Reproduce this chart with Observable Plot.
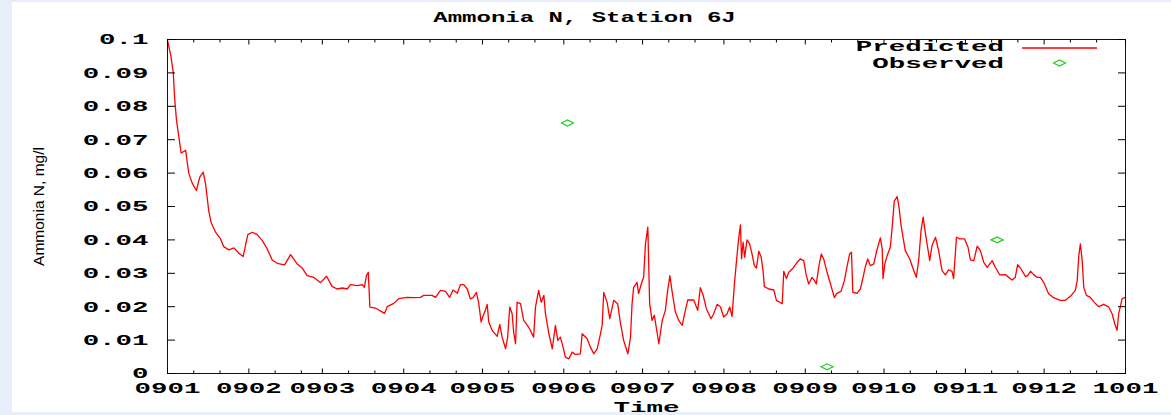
<!DOCTYPE html>
<html>
<head>
<meta charset="utf-8">
<script src="https://cdn.jsdelivr.net/npm/d3@7"></script>
<script src="https://cdn.jsdelivr.net/npm/@observablehq/plot@0.6"></script>
<style>
  html, body { margin: 0; padding: 0; }
  body { width: 1171px; height: 415px; background: #e8eef9; position: relative; overflow: hidden; }
  #panel { position: absolute; left: 12px; top: 2px; width: 1159px; height: 410px; background: #fff; }
  #chart { position: absolute; left: 0; top: 0; }
  .gp { font-family: "Liberation Mono", monospace; font-weight: bold; font-size: 15px; line-height: 14px; color: #000; white-space: pre; }
  #title { position: absolute; left: 0; width: 1170px; top: 12px; text-align: center; }
  #title span { display: inline-block; transform: scaleX(1.6); transform-origin: 50% 50%; }
  .legtext { position: absolute; right: 167px; transform: scaleX(1.83); transform-origin: 100% 50%; }
  #legline { position: absolute; left: 1020px; top: 43px; }
  #legdot { position: absolute; left: 1052px; top: 59px; }
</style>
</head>
<body>
<div id="panel"></div>
<div id="chart"></div>
<div id="title" class="gp"><span>Ammonia N, Station 6J</span></div>
<div class="gp legtext" style="top:40.5px">Predicted</div>
<div class="gp legtext" style="top:57.5px">Observed</div>
<svg id="legline" width="80" height="10"><line x1="2" y1="5" x2="77" y2="5" stroke="#ff0000" stroke-width="1.3"/></svg>
<svg id="legdot" width="16" height="8"><polygon points="1.5,4 7.5,1 13.5,4 7.5,7" fill="none" stroke="#22cc22" stroke-width="1.2"/></svg>
<script>
// ---------- data ----------
// Predicted ammonia N (mg/l): [days since 2009-01-01, value]
const predicted = [
[0,0.0997],[1.3,0.095],[2.2,0.090],[2.7,0.0827],[3.4,0.076],[4.3,0.071],[5.2,0.066],[6.9,0.0668],[8.1,0.060],[9.4,0.057],
[11.0,0.0548],[12.3,0.0588],[13.6,0.0603],[14.5,0.0568],[15.7,0.0488],[16.6,0.0453],[18.3,0.0423],[20.2,0.0403],[21.4,0.038],[23.4,0.037],
[25.3,0.0376],[27.2,0.036],[28.8,0.035],[30.6,0.0416],[32.3,0.0423],[34.2,0.0416],[36.1,0.0398],[38.0,0.0373],[39.9,0.034],[41.8,0.033],
[44.6,0.0325],[46.9,0.0356],[49.4,0.0328],[51.3,0.0316],[53.2,0.0293],[55.7,0.0288],[58.3,0.0272],[60.6,0.0291],[62.7,0.0261],[64.6,0.0253],
[66.6,0.0256],[68.5,0.0253],[69.7,0.0266],[72.3,0.0263],[74.2,0.0266],[75.0,0.0258],[75.8,0.0293],[76.5,0.0303],[77.1,0.0199],[79.2,0.0196],
[82.7,0.018],[83.7,0.020],[86.2,0.021],[88.1,0.0224],[91.3,0.0228],[93.8,0.0227],[96.4,0.0228],[97.6,0.0234],[100.8,0.0234],[102.1,0.0228],
[104.0,0.0249],[105.9,0.0246],[107.5,0.0228],[108.8,0.025],[110.4,0.024],[111.6,0.0266],[112.9,0.0266],[114.2,0.0253],[115.4,0.0223],[116.5,0.0228],
[117.7,0.0243],[118.6,0.0209],[119.5,0.0154],[120.3,0.0174],[121.1,0.0189],[121.8,0.0207],[122.4,0.0154],[123.7,0.0129],[125.6,0.0111],[126.6,0.0147],
[127.5,0.0109],[128.8,0.0074],[129.6,0.0109],[130.4,0.0199],[131.3,0.0179],[131.9,0.0124],[132.6,0.0089],[133.2,0.0213],[134.5,0.0209],[135.7,0.0159],
[137.6,0.0139],[139.5,0.0109],[140.2,0.0199],[141.4,0.0249],[142.4,0.0213],[143.4,0.0234],[144.0,0.0179],[145.3,0.0119],[146.6,0.0074],[147.8,0.0144],
[148.7,0.0099],[149.7,0.0109],[150.7,0.0079],[151.6,0.0049],[152.9,0.0044],[154.2,0.0064],[155.4,0.0057],[157.3,0.0059],[158.0,0.0119],[159.9,0.0104],
[161.1,0.0079],[162.4,0.0059],[163.7,0.0074],[164.7,0.0109],[165.6,0.0144],[166.2,0.0243],[167.5,0.0213],[168.5,0.0164],[170.0,0.0219],[171.5,0.0209],
[172.6,0.0149],[173.8,0.0099],[175.4,0.0059],[176.4,0.0109],[177.0,0.0209],[177.6,0.0258],[178.9,0.0273],[179.5,0.0239],[180.5,0.0268],[181.4,0.0288],
[182.1,0.0388],[183.0,0.0438],[183.7,0.0209],[184.6,0.0159],[185.5,0.0174],[186.6,0.0119],[187.2,0.0089],[188.5,0.0159],[189.7,0.0189],[190.4,0.0239],
[191.4,0.0293],[192.3,0.0243],[193.5,0.0184],[194.8,0.0159],[196.1,0.0144],[197.3,0.0189],[198.2,0.022],[200.5,0.022],[202.0,0.0189],[203.0,0.0257],
[204.1,0.0234],[205.3,0.0194],[207.1,0.0164],[208.1,0.0179],[209.4,0.0207],[210.7,0.0199],[211.9,0.0169],[213.2,0.0179],[214.2,0.0199],[215.1,0.0171],
[216.0,0.0268],[216.8,0.0338],[217.6,0.0403],[218.3,0.0445],[218.7,0.0343],[219.3,0.0393],[219.9,0.0348],[220.8,0.040],[221.8,0.0388],[222.7,0.0358],
[223.6,0.0323],[224.4,0.0316],[225.3,0.0366],[226.2,0.0348],[226.9,0.0308],[227.4,0.026],[229.1,0.0253],[231.0,0.025],[232.0,0.0219],[234.2,0.0209],
[234.8,0.0306],[235.8,0.0284],[236.7,0.0303],[238.4,0.0316],[239.9,0.0333],[241.1,0.0343],[242.4,0.0338],[243.4,0.0293],[244.3,0.0268],[245.6,0.0288],
[246.5,0.0278],[247.2,0.0268],[248.1,0.0318],[249.1,0.0358],[250.0,0.0343],[251.3,0.0303],[252.6,0.0268],[254.1,0.0227],[254.9,0.0239],[256.6,0.0246],
[257.9,0.0278],[258.9,0.032],[259.9,0.0358],[260.6,0.0363],[261.1,0.0243],[262.7,0.024],[264.0,0.0253],[265.0,0.0288],[265.9,0.032],[266.8,0.0343],
[267.8,0.0323],[269.1,0.0328],[270.1,0.0363],[271.0,0.039],[271.6,0.0406],[272.3,0.0373],[272.6,0.0284],[273.3,0.0328],[274.2,0.0353],[275.4,0.0378],
[276.2,0.0448],[276.9,0.0516],[278.0,0.053],[278.7,0.0498],[279.5,0.0443],[281.1,0.0368],[282.8,0.0343],[284.1,0.0313],[285.3,0.0288],[286.2,0.0338],
[287.1,0.0428],[287.9,0.0468],[288.8,0.0418],[289.6,0.0378],[290.4,0.0338],[291.3,0.0383],[292.6,0.0408],[293.8,0.0368],[295.1,0.0308],[296.4,0.0295],
[297.6,0.031],[298.9,0.0306],[299.5,0.0284],[300.6,0.0408],[301.8,0.0403],[303.7,0.0403],[305.0,0.0378],[305.9,0.034],[307.2,0.0338],[308.5,0.0381],
[309.7,0.0368],[311.0,0.0333],[312.3,0.0318],[314.2,0.0338],[315.4,0.0318],[317.1,0.0295],[319.2,0.0296],[321.8,0.028],[323.0,0.0288],[323.9,0.0326],
[325.2,0.0313],[326.9,0.029],[327.7,0.0293],[328.8,0.0306],[330.0,0.0296],[331.3,0.0288],[332.6,0.0288],[333.8,0.0273],[335.7,0.0239],[337.6,0.0227],
[340.2,0.0219],[342.1,0.0219],[344.0,0.0231],[345.9,0.0249],[346.6,0.0278],[347.2,0.0353],[347.8,0.0388],[348.5,0.0338],[349.1,0.0258],[350.1,0.0234],
[351.6,0.0228],[353.1,0.0213],[354.8,0.020],[356.7,0.0207],[358.6,0.0199],[359.9,0.0179],[360.9,0.0149],[361.8,0.0129],[362.4,0.0179],[363.0,0.0199],
[363.7,0.0224],[365.0,0.0228]
];
// Observed ammonia N (mg/l): [days since 2009-01-01, value]
const observed = [[152.4,0.075],[251.3,0.002],[316.1,0.040]];

// y ticks
const yTicks = [0,0.01,0.02,0.03,0.04,0.05,0.06,0.07,0.08,0.09,0.1];
const yTickLabels = ["0","0.01","0.02","0.03","0.04","0.05","0.06","0.07","0.08","0.09","0.1"];
// x ticks
const monthTicks = ["2009-01-01","2009-02-01","2009-03-01","2009-04-01","2009-05-01","2009-06-01","2009-07-01",
  "2009-08-01","2009-09-01","2009-10-01","2009-11-01","2009-12-01","2010-01-01"];
const monthLabels = ["0901","0902","0903","0904","0905","0906","0907","0908","0909","0910","0911","0912","1001"];
const minorTicks = ["2009-01-11","2009-01-21","2009-02-11","2009-02-21","2009-03-11","2009-03-21","2009-04-11","2009-04-21",
  "2009-05-11","2009-05-21","2009-06-11","2009-06-21","2009-07-11","2009-07-21","2009-08-11","2009-08-21",
  "2009-09-11","2009-09-21","2009-10-11","2009-10-21","2009-11-11","2009-11-21","2009-12-11","2009-12-21"];

// ---------- build ----------
const t0 = Date.UTC(2009, 0, 1);
const toDate = d => new Date(t0 + d * 864e5);
const predRows = predicted.map(([d, v]) => ({date: toDate(d), value: v, series: "Predicted"}));
const obsRows = observed.map(([d, v]) => ({date: toDate(d), value: v, series: "Observed"}));
const majorDates = monthTicks.map(s => new Date(s + "T00:00:00Z"));
const minorDates = minorTicks.map(s => new Date(s + "T00:00:00Z"));
const fmtMonth = d => monthLabels[majorDates.findIndex(m => +m === +d)];
const fmtY = d => yTickLabels[yTicks.indexOf(d)];

const gpText = {fontFamily: "Liberation Mono", fontSize: 15, fontWeight: "bold"};

const wideDiamond = {
  draw(ctx, size) {
    const r = Math.sqrt(size / Math.PI);
    ctx.moveTo(-1.5 * r, 0); ctx.lineTo(0, -0.75 * r); ctx.lineTo(1.5 * r, 0); ctx.lineTo(0, 0.75 * r); ctx.closePath();
  }
};

const chart = Plot.plot({
  width: 1171, height: 415,
  marginLeft: 167, marginRight: 46, marginTop: 39, marginBottom: 42,
  style: {background: "transparent", color: "#000", overflow: "visible"},
  x: {type: "utc", domain: [majorDates[0], majorDates[majorDates.length - 1]]},
  y: {domain: [0, 0.1]},
  marks: [
    Plot.line(predRows, {x: "date", y: "value", stroke: "#ff0000", strokeWidth: 1.3}),
    Plot.dot(obsRows, {x: "date", y: "value", symbol: wideDiamond, r: 4, stroke: "#22cc22", strokeWidth: 1.2, fill: "none"}),
    Plot.frame({stroke: "#111"}),
    Plot.axisY(yTicks, {anchor: "left", tickSize: 0, tickPadding: 19, tickFormat: fmtY, ...gpText,
      label: "Ammonia N, mg/l", labelAnchor: "center", labelOffset: 135, labelArrow: "none"}),
    Plot.axisY(yTicks, {anchor: "left", text: null, tickSize: -8, label: null}),
    Plot.axisY(yTicks, {anchor: "right", text: null, tickSize: -8, label: null}),
    Plot.axisX(majorDates, {anchor: "bottom", tickSize: 0, tickPadding: 9, tickFormat: fmtMonth, ...gpText,
      label: "Time", labelAnchor: "center", labelOffset: 38, labelArrow: "none"}),
    Plot.axisX(majorDates, {anchor: "bottom", text: null, tickSize: -4.5, label: null}),
    Plot.axisX(minorDates, {anchor: "bottom", text: null, tickSize: -2.5, label: null}),
    Plot.axisX(majorDates, {anchor: "top", text: null, tickSize: -4.5, label: null}),
    Plot.axisX(minorDates, {anchor: "top", text: null, tickSize: -2.5, label: null})
  ]
});
document.getElementById("chart").appendChild(chart);

// gnuplot-like wide bitmap lettering: stretch texts horizontally about their anchor point
function stretch(el, k) {
  const parent = el.parentNode;
  const r = el.getBoundingClientRect();
  const anchor = getComputedStyle(el).textAnchor || "start";
  const ax = anchor === "end" ? r.right : anchor === "middle" ? (r.left + r.right) / 2 : r.left;
  const m = parent.getScreenCTM().inverse();
  const p = new DOMPoint(ax, (r.top + r.bottom) / 2).matrixTransform(m);
  const g = document.createElementNS("http://www.w3.org/2000/svg", "g");
  g.setAttribute("transform", `translate(${p.x},0) scale(${k},1) translate(${-p.x},0)`);
  parent.insertBefore(g, el);
  g.appendChild(el);
}
const toStretch = Array.from(chart.querySelectorAll(
  'g[aria-label="x-axis tick label"] text, g[aria-label="y-axis tick label"] text, g[aria-label="x-axis label"] text'));
toStretch.forEach(el => stretch(el, 1.83));
chart.querySelectorAll('g[aria-label="y-axis label"], g[aria-label="y-axis label"] text').forEach(el => {
  el.setAttribute("font-family", "Liberation Sans");
  el.setAttribute("font-weight", "normal");
  el.setAttribute("font-size", "15.5");
});
</script>
</body>
</html>
